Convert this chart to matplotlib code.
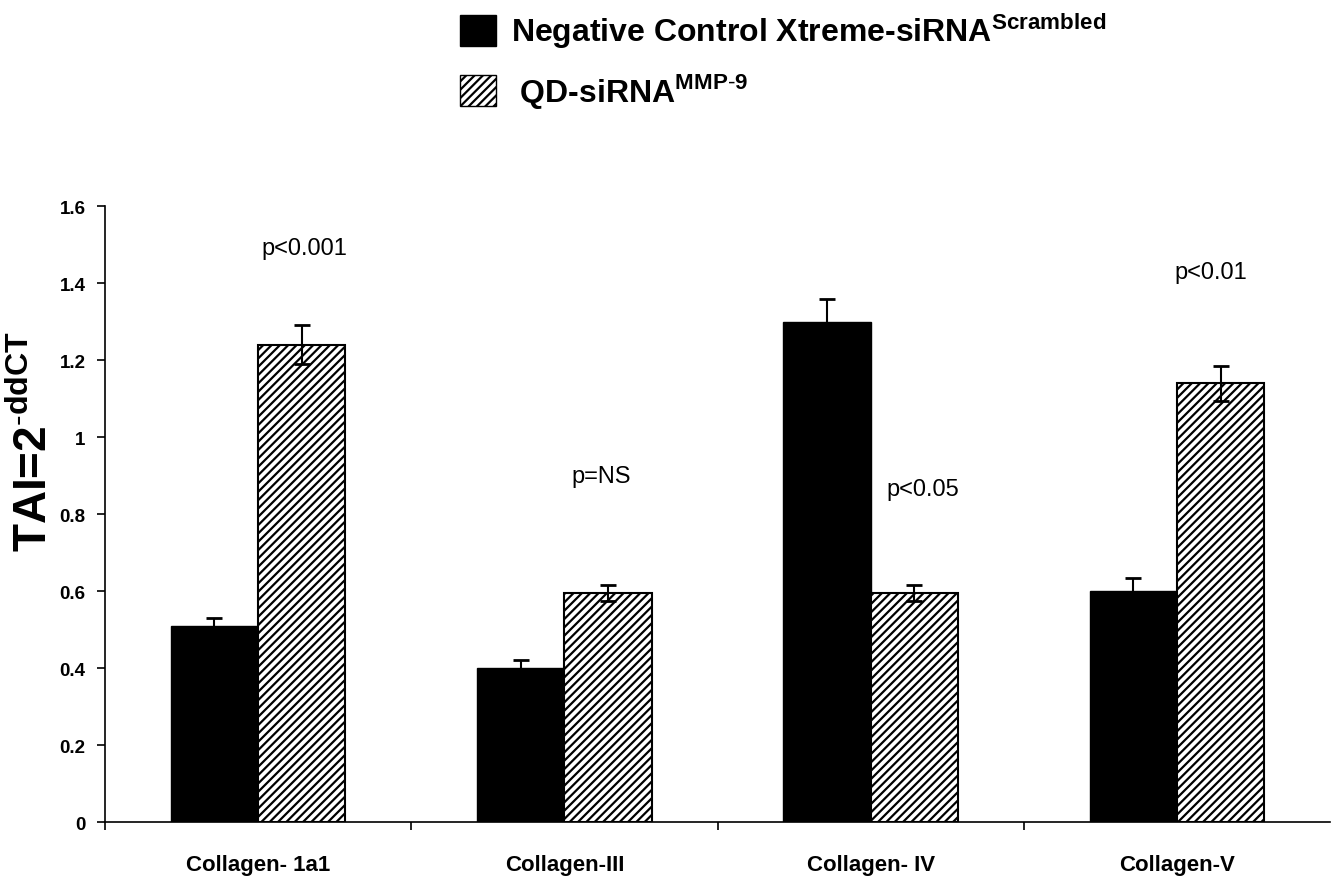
import numpy as np
import matplotlib
matplotlib.use("Agg")
import matplotlib.pyplot as plt
from matplotlib.patches import Patch

plt.rcParams['font.family'] = ['Liberation Sans', 'DejaVu Sans']
plt.rcParams['mathtext.fontset'] = 'custom'
plt.rcParams['mathtext.rm'] = 'Liberation Sans'
plt.rcParams['mathtext.bf'] = 'Liberation Sans:bold'
plt.rcParams['hatch.linewidth'] = 1.6

categories = ['Collagen- 1a1', 'Collagen-III', 'Collagen- IV', 'Collagen-V']
control = [0.51, 0.40, 1.30, 0.60]
control_err = [0.02, 0.02, 0.06, 0.035]
qd = [1.24, 0.595, 0.595, 1.14]
qd_err = [0.05, 0.02, 0.02, 0.045]
pvals = ['p<0.001', 'p=NS', 'p<0.05', 'p<0.01']
p_x = [0.15, 1.12, 2.17, 3.11]
p_y = [1.49, 0.90, 0.865, 1.43]

fig = plt.figure(figsize=(13.37, 8.78), dpi=100)
ax = fig.add_axes([0.0785, 0.0626, 0.9165, 0.7015])

x = np.arange(len(categories))
w = 0.285
ax.bar(x - w / 2, control, w, color='black', edgecolor='black', linewidth=1)
ax.bar(x + w / 2, qd, w, color='white', edgecolor='black', hatch='////', linewidth=1.5)
ax.errorbar(x - w / 2, control, yerr=control_err, fmt='none', ecolor='black',
            elinewidth=1.5, capsize=6, capthick=2)
ax.errorbar(x + w / 2, qd, yerr=qd_err, fmt='none', ecolor='black',
            elinewidth=1.5, capsize=6, capthick=2)

for px, py, t in zip(p_x, p_y, pvals):
    ax.text(px, py, t, ha='center', va='center', fontsize=17)

ax.set_xlim(-0.5, 3.5)
ax.set_ylim(0, 1.6)
ax.set_yticks(np.arange(0, 1.61, 0.2))
ax.set_yticklabels(['0', '0.2', '0.4', '0.6', '0.8', '1', '1.2', '1.4', '1.6'],
                   fontsize=13.5, fontweight='bold')
ax.set_xticks([-0.5, 0.5, 1.5, 2.5])
ax.set_xticklabels([])
ax.set_xticks(x, minor=True)
ax.set_xticklabels(categories, minor=True, fontsize=16, fontweight='bold',
                   family=['Liberation Sans Narrow', 'Liberation Sans', 'DejaVu Sans'])
ax.tick_params(axis='x', which='minor', length=0, pad=23)
ax.tick_params(axis='x', which='major', length=6, direction='out', width=1.2)
ax.tick_params(axis='y', length=6, direction='out', width=1.2, pad=8)
ax.spines['top'].set_visible(False)
ax.spines['right'].set_visible(False)
ax.spines['left'].set_linewidth(1.2)
ax.spines['bottom'].set_linewidth(1.2)

ax.set_ylabel(r'TAI=2$^{\mathbf{\text{-}ddCT}}$', fontsize=33, fontweight='bold',
              va='center', rotation_mode='default')
ax.yaxis.set_label_coords(-0.058, 0.62)

handles = [Patch(facecolor='black', edgecolor='black'),
           Patch(facecolor='white', edgecolor='black', hatch='////')]
labels = [r'Negative Control Xtreme-siRNA$^{\mathbf{Scrambled}}$',
          r' QD-siRNA$^{\mathbf{MMP\text{-}9}}$']
fig.legend(handles, labels, loc='upper left', bbox_to_anchor=(431 / 1337, 1 + 17 / 878),
           frameon=False, prop={'size': 23, 'weight': 'bold'},
           handlelength=1.15, handleheight=1.15, handletextpad=0.45, labelspacing=0.65)

fig.savefig('out.png', dpi=100)
